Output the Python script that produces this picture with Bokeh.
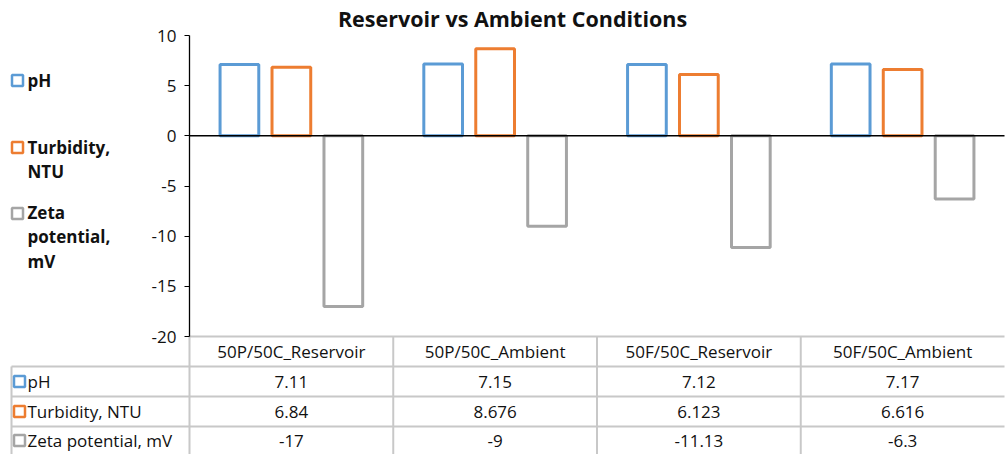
from bokeh.plotting import figure
from bokeh.models import ColumnDataSource, Range1d, FixedTicker, Label
from bokeh.core.properties import value
from bokeh.embed import file_html
from bokeh.resources import INLINE

# ---- data -------------------------------------------------------------
categories = ["50P/50C_Reservoir", "50P/50C_Ambient", "50F/50C_Reservoir", "50F/50C_Ambient"]
ph = [7.11, 7.15, 7.12, 7.17]
turbidity = [6.84, 8.676, 6.123, 6.616]
zeta = [-17, -9, -11.13, -6.3]

series_fields = ["ph", "turbidity", "zeta"]
series_names = ["pH", "Turbidity, NTU", "Zeta potential, mV"]
legend_labels = ["pH", "Turbidity,\nNTU", "Zeta\npotential,\nmV"]
colors = ["#5B9BD5", "#ED7D31", "#A5A5A5"]
y_ticks = [-20, -15, -10, -5, 0, 5, 10]
title_text = "Reservoir vs Ambient Conditions"

FONT = "Open Sans"
TEXT = "#111111"
GRID = "#c8c8c8"

# ---- page geometry (pixels) -------------------------------------------
W, H = 1005, 454
PLOT_LEFT = 189                  # left edge of the bar area / table value columns
PLOT_TOP, PLOT_BOTTOM = 35, 336  # pixel rows of y = 10 and y = -20
ROW_H = 30                       # table row height
TABLE_LEFT = 11
n = len(categories)
COL_W = (W - 1 - PLOT_LEFT) / n
PX = (PLOT_BOTTOM - PLOT_TOP) / (y_ticks[-1] - y_ticks[0])   # pixels per y unit
LABEL_COL = (PLOT_LEFT - TABLE_LEFT) / COL_W
Y_TOP = y_ticks[-1] + PLOT_TOP / PX                            # y value at the canvas top


def px_to_y(py):
    """Canvas pixel row -> chart y value."""
    return Y_TOP - py / PX


x_idx = list(range(n))
source = ColumnDataSource(dict(idx=x_idx, ph=ph, turbidity=turbidity, zeta=zeta))

# one canvas-wide frame: x in category-column units, y in chart units
p = figure(width=W, height=H, output_backend="svg", toolbar_location=None,
           x_range=Range1d(-PLOT_LEFT / COL_W, (W - PLOT_LEFT) / COL_W),
           y_range=Range1d(px_to_y(H), Y_TOP),
           x_axis_location=None, y_axis_location="left",
           min_border_left=0, min_border_right=0, min_border_top=0, min_border_bottom=0)
p.title.visible = False
p.outline_line_color = None
p.xgrid.visible = False
p.ygrid.visible = False
p.background_fill_color = "white"
p.border_fill_color = "white"
p.extra_y_ranges = {"table": Range1d((H - PLOT_BOTTOM) / ROW_H, -PLOT_BOTTOM / ROW_H)}

# value axis sitting at the left edge of the bar area
ax = p.yaxis[0]
ax.fixed_location = 0
ax.bounds = (y_ticks[0], y_ticks[-1])
ax.ticker = FixedTicker(ticks=y_ticks)
ax.major_label_overrides = {t: str(t) for t in y_ticks}
ax.major_tick_in = 0
ax.major_tick_out = 5
ax.minor_tick_line_color = None
ax.axis_line_width = 1.3
ax.axis_line_color = "black"
ax.major_tick_line_color = "black"
ax.major_label_standoff = 8
ax.major_label_text_font = FONT
ax.major_label_text_font_size = "17px"
ax.major_label_text_color = TEXT

# ---- bars ---------------------------------------------------------------
offsets = [-0.255, 0.0, 0.255]
for field, color, off in zip(series_fields, colors, offsets):
    src = ColumnDataSource(dict(x=[i + 0.5 + off for i in x_idx], top=source.data[field]))
    p.vbar(x="x", top="top", bottom=0, width=0.19, source=src,
           fill_color="white", line_color=color, line_width=3)

# horizontal axis line at zero across the bar area
p.segment(x0=[0], y0=[0], x1=[n], y1=[0], line_color="black", line_width=1.5)

# ---- title --------------------------------------------------------------
p.add_layout(Label(x=(512 - PLOT_LEFT) / COL_W, y=px_to_y(18),
                   text=title_text, text_align="center", text_baseline="middle",
                   text_font=FONT, text_font_style="bold", text_font_size="21.5px",
                   text_color=TEXT))

# ---- legend on the left (marker beside the first line of each label) -----
first_line_rows = [80, 147, 213]
LINE_STEP = 23.5
key_x = -PLOT_LEFT / COL_W
p.scatter(x=[key_x + 17 / COL_W] * 3, y=[px_to_y(r) for r in first_line_rows],
          marker="square", size=11, fill_color="white", line_color=colors, line_width=2.5)
block_mid = [px_to_y(r + LINE_STEP * (lab.count("\n")) / 2)
             for r, lab in zip(first_line_rows, legend_labels)]
p.text(x=[key_x + 27 / COL_W] * 3, y=block_mid, text=legend_labels, text_align="left",
       text_baseline="middle", text_font=value(FONT), text_font_style="bold",
       text_font_size="17px", text_color=TEXT, text_line_height=1.06)

# ---- data table under the chart ------------------------------------------
tb = (H - PLOT_BOTTOM) / ROW_H   # bottom edge of the table in row units
p.segment(x0=[0, -LABEL_COL, -LABEL_COL, -LABEL_COL], y0=[0, 1, 2, 3],
          x1=[n, n, n, n], y1=[0, 1, 2, 3], line_color=GRID, line_width=2,
          y_range_name="table")
p.segment(x0=[-LABEL_COL, 0, 1, 2, 3], y0=[1, 0, 0, 0, 0],
          x1=[-LABEL_COL, 0, 1, 2, 3], y1=[tb] * 5, line_color=GRID, line_width=2,
          y_range_name="table")

p.text(x=[i + 0.5 for i in x_idx], y=[0.5] * n, text=categories, text_align="center",
       text_baseline="middle", text_font_size="17px", text_color=TEXT,
       text_font=value(FONT), y_range_name="table")


def fmt(v):
    return f"{v:g}"


for row, (vals, name, color) in enumerate(zip([ph, turbidity, zeta], series_names, colors), start=1):
    yc = min(row + 0.5, (row + tb) / 2)
    p.text(x=[i + 0.5 for i in x_idx], y=[yc] * n, text=[fmt(v) for v in vals],
           text_align="center", text_baseline="middle", text_font_size="17px",
           text_color=TEXT, text_font=value(FONT), y_range_name="table")
    p.scatter(x=[-LABEL_COL + 8 / COL_W], y=[yc], marker="square", size=11,
              fill_color="white", line_color=color, line_width=2.5, y_range_name="table")
    p.text(x=[-LABEL_COL + 16 / COL_W], y=[yc], text=[name], text_align="left",
           text_baseline="middle", text_font_size="17px", text_color=TEXT,
           text_font=value(FONT), y_range_name="table")

open("out.html", "w").write(file_html(p, INLINE))
